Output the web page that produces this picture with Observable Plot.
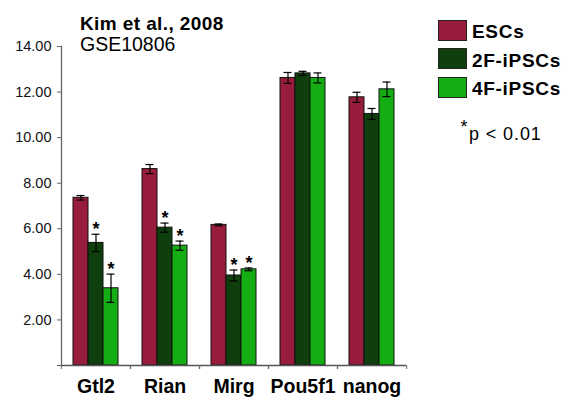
<!DOCTYPE html>
<html>
<head>
<meta charset="utf-8">
<script src="https://cdn.jsdelivr.net/npm/d3@7"></script>
<script src="https://cdn.jsdelivr.net/npm/@observablehq/plot@0.6"></script>
<style>
  html, body { margin: 0; padding: 0; background: #fff; }
  #wrap { position: relative; width: 570px; height: 398px; font-family: "Liberation Sans", Arial, sans-serif; color: #000; }
  #wrap svg { position: absolute; left: 0; top: 0; }
  .abs { position: absolute; white-space: nowrap; line-height: 1; }
  .title { font-weight: bold; font-size: 19px; letter-spacing: 0.4px; }
  .sub { font-size: 19.5px; }
  .sw { position: absolute; width: 27px; height: 19px; border: 1px solid #222; }
  .leg { font-weight: bold; font-size: 19px; letter-spacing: 0.7px; }
  .note { font-size: 18px; letter-spacing: 0.9px; }
</style>
</head>
<body>
<div id="wrap"></div>
<script>
// Expression levels (log2) per gene, Kim et al., 2008 (GSE10806)
const genes = ["Gtl2", "Rian", "Mirg", "Pou5f1", "nanog"];
const series = ["ESCs", "2F-iPSCs", "4F-iPSCs"];
const colors = ["#981c3b", "#0e3f0c", "#14ae14"];

const escMean = [7.36, 8.62, 6.17, 12.62, 11.77];
const escErr  = [0.10, 0.20, 0.04, 0.24, 0.22];
const f2Mean  = [5.38, 6.05, 3.95, 12.82, 11.04];
const f2Err   = [0.38, 0.20, 0.24, 0.09, 0.24];
const f4Mean  = [3.39, 5.26, 4.22, 12.62, 12.12];
const f4Err   = [0.62, 0.20, 0.06, 0.22, 0.32];
// p < 0.01 versus ESCs
const f2Sig = [true, true, true, false, false];
const f4Sig = [true, true, true, false, false];

const yTicks = [0, 2, 4, 6, 8, 10, 12, 14];

const rows = [];
genes.forEach((g, i) => {
  rows.push({gene: g, series: series[0], value: escMean[i], err: escErr[i], sig: false});
  rows.push({gene: g, series: series[1], value: f2Mean[i], err: f2Err[i], sig: f2Sig[i]});
  rows.push({gene: g, series: series[2], value: f4Mean[i], err: f4Err[i], sig: f4Sig[i]});
});

const W = 570, H = 398;
const mL = 60, mR = 163, mT = 46, mB = 33;
const halfBand = (W - mL - mR) / genes.length / 2;

const chart = Plot.plot({
  width: W,
  height: H,
  marginLeft: mL,
  marginRight: mR,
  marginTop: mT,
  marginBottom: mB,
  style: {fontFamily: "'Liberation Sans', Arial, sans-serif", background: "transparent", color: "#000"},
  fx: {domain: genes, padding: 0},
  x: {domain: series, paddingInner: 0, paddingOuter: 0.74, axis: null},
  y: {domain: [0, 14]},
  color: {domain: series, range: colors},
  marks: [
    Plot.frame({anchor: "left", facetAnchor: "left", stroke: "#666", strokeWidth: 1.3}),
    Plot.axisY({ticks: yTicks, tickFormat: d => d === 0 ? "" : d.toFixed(2), tickSize: 4, tickPadding: 6,
      fontSize: 14.5, stroke: "#666", label: null, fill: "#111"}),
    Plot.barY(rows, {fx: "gene", x: "series", y: "value", fill: "series", stroke: "#111", strokeWidth: 1}),
    Plot.ruleX(rows, {fx: "gene", x: "series", y1: d => d.value - d.err, y2: d => d.value + d.err, stroke: "#000", strokeWidth: 1.2}),
    Plot.tickY(rows, {fx: "gene", x: "series", y: d => d.value + d.err, stroke: "#000", strokeWidth: 1.2, insetLeft: 3.5, insetRight: 3.5}),
    Plot.tickY(rows, {fx: "gene", x: "series", y: d => d.value - d.err, stroke: "#000", strokeWidth: 1.2, insetLeft: 3.5, insetRight: 3.5}),
    Plot.text(rows.filter(d => d.sig), {fx: "gene", x: "series", y: d => d.value + d.err, text: () => "*",
      fontSize: 18, fontWeight: "bold", dy: -5, fill: "#000"}),
    Plot.ruleY([0], {stroke: "#555", strokeWidth: 1.3}),
    Plot.axisFx({anchor: "bottom", tickSize: 0, tickPadding: 14, fontSize: 19.5, fontWeight: "bold", label: null, fill: "#000"}),
    Plot.axisFx({anchor: "bottom", tickSize: 4, tickFormat: () => "", dx: -halfBand, stroke: "#666", label: null}),
    Plot.axisFx({anchor: "bottom", tickSize: 4, tickFormat: () => "", dx: halfBand, stroke: "#666", label: null})
  ]
});

const wrap = document.getElementById("wrap");
wrap.appendChild(chart);

function addText(cls, text, left, baseline, size) {
  const el = document.createElement("div");
  el.className = "abs " + cls;
  el.textContent = text;
  el.style.left = left + "px";
  el.style.top = (baseline - 0.8465 * size) + "px";
  wrap.appendChild(el);
}

addText("title", "Kim et al., 2008", 80, 30, 19);
addText("sub", "GSE10806", 80, 52, 19.5);

series.forEach((s, i) => {
  const top = 20 + i * 28.4;
  const sw = document.createElement("div");
  sw.className = "sw";
  sw.style.left = "438px";
  sw.style.top = top + "px";
  sw.style.background = colors[i];
  wrap.appendChild(sw);
  addText("leg", s, 472, top + 18.4, 19);
});

addText("note", "*", 460.5, 133, 18);
addText("note", "p < 0.01", 469, 140.5, 18);
</script>
</body>
</html>
